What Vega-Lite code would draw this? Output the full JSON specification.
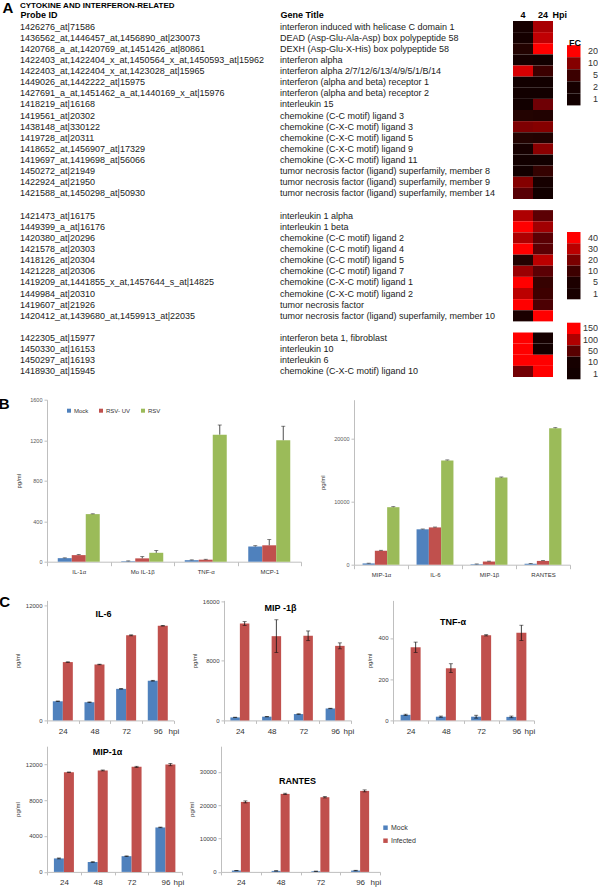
{
"$schema":"https://vega.github.io/schema/vega-lite/v6.json",
"padding":{"left":-2,"top":0,"right":0,"bottom":0},
"background":"white",
"config":{"font":"Liberation Sans","view":{"stroke":null},"axis":{"grid":false,"domainColor":"#bfbfbf","tickColor":"#bfbfbf","labelColor":"#404040","titleFontWeight":"normal","titleColor":"#333","labelOverlap":false},"axisY":{"labelOverlap":false},"axisQuantitative":{"labelOverlap":false}},
"datasets":{
"genes":[
{"slot":1,"grp":"g1","probe":"1426276_at|71586","title":"interferon induced with helicase C domain 1","4":2,"24":13},
{"slot":2,"grp":"g1","probe":"1436562_at,1446457_at,1456890_at|230073","title":"DEAD (Asp-Glu-Ala-Asp) box polypeptide 58","4":1.8,"24":15},
{"slot":3,"grp":"g1","probe":"1420768_a_at,1420769_at,1451426_at|80861","title":"DEXH (Asp-Glu-X-His) box polypeptide 58","4":3,"24":20},
{"slot":4,"grp":"g1","probe":"1422403_at,1422404_x_at,1450564_x_at,1450593_at|15962","title":"interferon alpha","4":2,"24":1},
{"slot":5,"grp":"g1","probe":"1422403_at,1422404_x_at,1423028_at|15965","title":"interferon alpha 2/7/12/6/13/4/9/5/1/B/14","4":17,"24":5},
{"slot":6,"grp":"g1","probe":"1449026_at,1442222_at|15975","title":"interferon (alpha and beta) receptor 1","4":1,"24":1},
{"slot":7,"grp":"g1","probe":"1427691_a_at,1451462_a_at,1440169_x_at|15976","title":"interferon (alpha and beta) receptor 2","4":1,"24":1},
{"slot":8,"grp":"g1","probe":"1418219_at|16168","title":"interleukin 15","4":1,"24":8.5},
{"slot":9,"grp":"g1","probe":"1419561_at|20302","title":"chemokine (C-C motif) ligand 3","4":3,"24":2.8},
{"slot":10,"grp":"g1","probe":"1438148_at|330122","title":"chemokine (C-X-C motif) ligand 3","4":9.5,"24":10},
{"slot":11,"grp":"g1","probe":"1419728_at|20311","title":"chemokine (C-X-C motif) ligand 5","4":3,"24":2.8},
{"slot":12,"grp":"g1","probe":"1418652_at,1456907_at|17329","title":"chemokine (C-X-C motif) ligand 9","4":2,"24":10.5},
{"slot":13,"grp":"g1","probe":"1419697_at,1419698_at|56066","title":"chemokine (C-X-C motif) ligand 11","4":1,"24":1},
{"slot":14,"grp":"g1","probe":"1450272_at|21949","title":"tumor necrosis factor (ligand) superfamily, member 8","4":1,"24":4.5},
{"slot":15,"grp":"g1","probe":"1422924_at|21950","title":"tumor necrosis factor (ligand) superfamily, member 9","4":10,"24":2},
{"slot":16,"grp":"g1","probe":"1421588_at,1450298_at|50930","title":"tumor necrosis factor (ligand) superfamily, member 14","4":7,"24":1},
{"slot":18,"grp":"g2","probe":"1421473_at|16175","title":"interleukin 1 alpha","4":28,"24":15},
{"slot":19,"grp":"g2","probe":"1449399_a_at|16176","title":"interleukin 1 beta","4":40,"24":26},
{"slot":20,"grp":"g2","probe":"1420380_at|20296","title":"chemokine (C-C motif) ligand 2","4":28,"24":15},
{"slot":21,"grp":"g2","probe":"1421578_at|20303","title":"chemokine (C-C motif) ligand 4","4":40,"24":15},
{"slot":22,"grp":"g2","probe":"1418126_at|20304","title":"chemokine (C-C motif) ligand 5","4":6,"24":30},
{"slot":23,"grp":"g2","probe":"1421228_at|20306","title":"chemokine (C-C motif) ligand 7","4":25,"24":15},
{"slot":24,"grp":"g2","probe":"1419209_at,1441855_x_at,1457644_s_at|14825","title":"chemokine (C-X-C motif) ligand 1","4":40,"24":9},
{"slot":25,"grp":"g2","probe":"1449984_at|20310","title":"chemokine (C-X-C motif) ligand 2","4":30,"24":10},
{"slot":26,"grp":"g2","probe":"1419607_at|21926","title":"tumor necrosis factor","4":40,"24":12.5},
{"slot":27,"grp":"g2","probe":"1420412_at,1439680_at,1459913_at|22035","title":"tumor necrosis factor (ligand) superfamily, member 10","4":3,"24":40},
{"slot":29,"grp":"g3","probe":"1422305_at|15977","title":"interferon beta 1, fibroblast","4":150,"24":9},
{"slot":30,"grp":"g3","probe":"1450330_at|16153","title":"interleukin 10","4":150,"24":3},
{"slot":31,"grp":"g3","probe":"1450297_at|16193","title":"interleukin 6","4":150,"24":150},
{"slot":32,"grp":"g3","probe":"1418930_at|15945","title":"chemokine (C-X-C motif) ligand 10","4":65,"24":150}
],
"bl":[
{"c":"IL-1α","g":"Mock","v":35,"hi":38},{"c":"IL-1α","g":"RSV- UV","v":65,"hi":70},{"c":"IL-1α","g":"RSV","v":470,"hi":473},
{"c":"Mo IL-1β","g":"Mock","v":5,"hi":8},{"c":"Mo IL-1β","g":"RSV- UV","v":33,"hi":50},{"c":"Mo IL-1β","g":"RSV","v":88,"hi":110},
{"c":"TNF-α","g":"Mock","v":15,"hi":18},{"c":"TNF-α","g":"RSV- UV","v":20,"hi":24},{"c":"TNF-α","g":"RSV","v":1255,"hi":1350},
{"c":"MCP-1","g":"Mock","v":150,"hi":158},{"c":"MCP-1","g":"RSV- UV","v":162,"hi":218},{"c":"MCP-1","g":"RSV","v":1200,"hi":1338}
],
"br":[
{"c":"MIP-1α","g":"Mock","v":200,"hi":240},{"c":"MIP-1α","g":"RSV- UV","v":2200,"hi":2280},{"c":"MIP-1α","g":"RSV","v":9100,"hi":9180},
{"c":"IL-6","g":"Mock","v":5600,"hi":5650},{"c":"IL-6","g":"RSV- UV","v":5900,"hi":5960},{"c":"IL-6","g":"RSV","v":16500,"hi":16580},
{"c":"MIP-1β","g":"Mock","v":80,"hi":120},{"c":"MIP-1β","g":"RSV- UV","v":500,"hi":560},{"c":"MIP-1β","g":"RSV","v":13800,"hi":13880},
{"c":"RANTES","g":"Mock","v":150,"hi":200},{"c":"RANTES","g":"RSV- UV","v":600,"hi":660},{"c":"RANTES","g":"RSV","v":21600,"hi":21680}
],
"il6":[
{"h":"24","g":"Mock","v":2000,"lo":1970,"hi":2030},{"h":"48","g":"Mock","v":1900,"lo":1870,"hi":1930},{"h":"72","g":"Mock","v":3300,"lo":3270,"hi":3330},{"h":"96","g":"Mock","v":4150,"lo":4110,"hi":4190},
{"h":"24","g":"Infected","v":6100,"lo":6070,"hi":6130},{"h":"48","g":"Infected","v":5850,"lo":5820,"hi":5880},{"h":"72","g":"Infected","v":8900,"lo":8850,"hi":8950},{"h":"96","g":"Infected","v":9900,"lo":9870,"hi":9930}
],
"mip1b":[
{"h":"24","g":"Mock","v":400,"lo":370,"hi":430},{"h":"48","g":"Mock","v":500,"lo":470,"hi":530},{"h":"72","g":"Mock","v":850,"lo":820,"hi":880},{"h":"96","g":"Mock","v":1600,"lo":1570,"hi":1630},
{"h":"24","g":"Infected","v":13000,"lo":12750,"hi":13250},{"h":"48","g":"Infected","v":11300,"lo":9100,"hi":13500},{"h":"72","g":"Infected","v":11350,"lo":10700,"hi":12000},{"h":"96","g":"Infected","v":10000,"lo":9600,"hi":10400}
],
"tnf":[
{"h":"24","g":"Mock","v":27,"lo":24,"hi":30},{"h":"48","g":"Mock","v":18,"lo":15,"hi":21},{"h":"72","g":"Mock","v":18,"lo":11,"hi":25},{"h":"96","g":"Mock","v":17,"lo":13,"hi":21},
{"h":"24","g":"Infected","v":355,"lo":330,"hi":380},{"h":"48","g":"Infected","v":253,"lo":232,"hi":275},{"h":"72","g":"Infected","v":413,"lo":410,"hi":416},{"h":"96","g":"Infected","v":425,"lo":388,"hi":462}
],
"mip1a":[
{"h":"24","g":"Mock","v":1500,"lo":1450,"hi":1550},{"h":"48","g":"Mock","v":1100,"lo":1070,"hi":1130},{"h":"72","g":"Mock","v":1750,"lo":1720,"hi":1780},{"h":"96","g":"Mock","v":4950,"lo":4920,"hi":4990},
{"h":"24","g":"Infected","v":11100,"lo":11070,"hi":11130},{"h":"48","g":"Infected","v":11300,"lo":11250,"hi":11350},{"h":"72","g":"Infected","v":11700,"lo":11640,"hi":11760},{"h":"96","g":"Infected","v":11950,"lo":11820,"hi":12080}
],
"rantes":[
{"h":"24","g":"Mock","v":400,"lo":350,"hi":450},{"h":"48","g":"Mock","v":300,"lo":250,"hi":350},{"h":"72","g":"Mock","v":200,"lo":150,"hi":250},{"h":"96","g":"Mock","v":400,"lo":320,"hi":480},
{"h":"24","g":"Infected","v":21000,"lo":20700,"hi":21300},{"h":"48","g":"Infected","v":23400,"lo":23200,"hi":23600},{"h":"72","g":"Infected","v":22400,"lo":22200,"hi":22600},{"h":"96","g":"Infected","v":24300,"lo":24000,"hi":24600}
]
},
"vconcat":[
{
"spacing":0,
"resolve":{"scale":{"color":"independent"},"legend":{"color":"independent"}},
"hconcat":[
{"width":233,"height":356,"data":{"name":"genes"},
"title":{"text":"CYTOKINE AND INTERFERON-RELATED","anchor":"start","frame":"group","fontSize":8,"fontWeight":"bold","offset":3,"dx":-27,"dy":13,"color":"#000"},
"mark":{"type":"text","align":"left","fontSize":9,"color":"#1a1a1a","dx":-27},
"encoding":{
"y":{"field":"slot","type":"ordinal","scale":{"domain":[1,2,3,4,5,6,7,8,9,10,11,12,13,14,15,16,17,18,19,20,21,22,23,24,25,26,27,28,29,30,31,32],"paddingInner":0,"paddingOuter":0},"axis":{"title":"A","titleAngle":0,"titleX":-45,"titleY":-21,"titleAlign":"left","titleBaseline":"top","titleFontSize":15,"titleFontWeight":"bold","titleColor":"#000","labels":false,"ticks":false,"domain":false}},
"x":{"datum":"Probe ID","type":"nominal","scale":{"type":"point","padding":0,"align":0},"axis":{"orient":"top","title":null,"domain":false,"ticks":false,"labelAngle":0,"labelFontWeight":"bold","labelFontSize":9,"labelAlign":"left","labelBaseline":"bottom","labelPadding":2,"labelOffset":-27,"labelColor":"#000"}},
"text":{"field":"probe"}}},
{"width":232.7,"height":356,"data":{"name":"genes"},
"mark":{"type":"text","align":"left","fontSize":9,"color":"#1a1a1a"},
"encoding":{
"y":{"field":"slot","type":"ordinal","scale":{"domain":[1,2,3,4,5,6,7,8,9,10,11,12,13,14,15,16,17,18,19,20,21,22,23,24,25,26,27,28,29,30,31,32],"paddingInner":0,"paddingOuter":0},"axis":null},
"x":{"datum":"Gene Title","type":"nominal","scale":{"type":"point","padding":0,"align":0},"axis":{"orient":"top","title":null,"domain":false,"ticks":false,"labelAngle":0,"labelFontWeight":"bold","labelFontSize":9,"labelAlign":"left","labelBaseline":"bottom","labelPadding":2,"labelColor":"#000"}},
"text":{"field":"title"}}},
{"width":40,"height":356,"data":{"name":"genes"},
"transform":[{"fold":["4","24"],"as":["hpi","fc"]}],
"encoding":{
"x":{"field":"hpi","type":"nominal","sort":["4","24"],"scale":{"paddingInner":0,"paddingOuter":0},"axis":{"orient":"top","title":"Hpi","titleAngle":0,"titleX":39,"titleY":-2,"titleAlign":"left","titleBaseline":"bottom","titleFontSize":9,"titleFontWeight":"bold","titleColor":"#000","domain":false,"ticks":false,"labelFontWeight":"bold","labelFontSize":9,"labelPadding":2,"labelAngle":0,"labelColor":"#000"}},
"y":{"field":"slot","type":"ordinal","scale":{"domain":[1,2,3,4,5,6,7,8,9,10,11,12,13,14,15,16,17,18,19,20,21,22,23,24,25,26,27,28,29,30,31,32],"paddingInner":0,"paddingOuter":0},"axis":null}},
"resolve":{"scale":{"color":"independent"},"legend":{"color":"independent"}},
"layer":[
{"transform":[{"filter":"datum.grp==='g1'"}],"mark":"rect","encoding":{"color":{"field":"fc","type":"quantitative","scale":{"domain":[1,2,5,10,20],"range":["#000000","#160000","#3b0000","#850000","#ff0000"],"clamp":true},"legend":null}}},
{"transform":[{"filter":"datum.grp==='g2'"}],"mark":"rect","encoding":{"color":{"field":"fc","type":"quantitative","scale":{"domain":[1,5,10,20,30,40],"range":["#000000","#1c0000","#3d0000","#7a0000","#bb0000","#ff0000"],"clamp":true},"legend":null}}},
{"transform":[{"filter":"datum.grp==='g3'"}],"mark":"rect","encoding":{"color":{"field":"fc","type":"quantitative","scale":{"domain":[1,10,50,100,150],"range":["#000000","#160000","#580000","#b00000","#ff0000"],"clamp":true},"legend":null}}}
]},
{"spacing":126,"resolve":{"scale":{"color":"independent"},"legend":{"color":"independent"}},
"vconcat":[
{"width":13.5,"height":84.4,"data":{"values":[{"lv":20},{"lv":10},{"lv":5},{"lv":2},{"lv":1}]},
"mark":"rect",
"encoding":{"y":{"field":"lv","type":"ordinal","sort":"descending","scale":{"paddingInner":0,"paddingOuter":1.22,"align":1},"axis":{"orient":"right","title":"FC","titleAngle":0,"titleX":0,"titleY":24.5,"titleAlign":"right","titleBaseline":"alphabetic","titleFontSize":9,"titleFontWeight":"bold","titleColor":"#000","domain":false,"ticks":false,"labelFontSize":9,"labelColor":"#333","labelAlign":"right","labelPadding":17}},
"color":{"field":"lv","type":"quantitative","scale":{"domain":[1,2,5,10,20],"range":["#000000","#160000","#3b0000","#850000","#ff0000"]},"legend":null}}},
{"spacing":22.7,"resolve":{"scale":{"color":"independent"},"legend":{"color":"independent"}},
"vconcat":[
{"width":13.5,"height":67.3,"data":{"values":[{"lv":40},{"lv":30},{"lv":20},{"lv":10},{"lv":5},{"lv":1}]},
"mark":"rect",
"encoding":{"y":{"field":"lv","type":"ordinal","sort":"descending","scale":{"paddingInner":0,"paddingOuter":0},"axis":{"orient":"right","title":null,"domain":false,"ticks":false,"labelFontSize":9,"labelColor":"#333","labelAlign":"right","labelPadding":17}},
"color":{"field":"lv","type":"quantitative","scale":{"domain":[1,5,10,20,30,40],"range":["#000000","#1c0000","#3d0000","#7a0000","#bb0000","#ff0000"]},"legend":null}}},
{"width":13.5,"height":56.6,"data":{"values":[{"lv":150},{"lv":100},{"lv":50},{"lv":10},{"lv":1}]},
"mark":"rect",
"encoding":{"y":{"field":"lv","type":"ordinal","sort":"descending","scale":{"paddingInner":0,"paddingOuter":0},"axis":{"orient":"right","title":null,"domain":false,"ticks":false,"labelFontSize":9,"labelColor":"#333","labelAlign":"right","labelPadding":17}},
"color":{"field":"lv","type":"quantitative","scale":{"domain":[1,10,50,100,150],"range":["#000000","#160000","#580000","#b00000","#ff0000"]},"legend":null}}}
]}
]}
]},
{
"title":{"text":"B","anchor":"start","frame":"bounds","dx":-17,"dy":14.5,"fontSize":15,"fontWeight":"bold","baseline":"top","offset":0,"color":"#000"},
"spacing":17,
"resolve":{"scale":{"color":"independent"},"legend":{"color":"independent"}},
"hconcat":[
{"width":254,"height":162,"data":{"name":"bl"},
"encoding":{
"x":{"field":"c","type":"nominal","sort":["IL-1α","Mo IL-1β","TNF-α","MCP-1"],"scale":{"paddingInner":0,"paddingOuter":0},"axis":{"title":null,"labelAngle":0,"labelFontSize":6,"labelColor":"#333","tickBand":"extent","tickSize":4,"labelPadding":3}}},
"layer":[
{"transform":[{"filter":"datum.g==='Mock'"}],"mark":{"type":"bar","width":14,"xOffset":-14},"encoding":{"y":{"field":"v","type":"quantitative","scale":{"domain":[0,1600],"nice":false},"axis":{"title":"pg/ml","titleFontSize":6,"titlePadding":8,"labelFontSize":5.5,"labelColor":"#595959","tickSize":3,"labelPadding":2,"labelOverlap":false,"labelBound":false,"labelFlush":false,"format":"d","values":[0,200,400,600,800,1000,1200,1400,1600]}},
"color":{"field":"g","type":"nominal","scale":{"domain":["Mock","RSV- UV","RSV"],"range":["#4f81bd","#c0504d","#9bbb59"]},"legend":{"orient":"none","legendX":19,"legendY":8,"direction":"horizontal","title":null,"symbolType":"square","symbolSize":16,"labelFontSize":6,"labelColor":"#333","columnPadding":9,"labelOffset":2}}}},
{"transform":[{"filter":"datum.g==='RSV- UV'"}],"mark":{"type":"bar","width":14,"xOffset":0},"encoding":{"y":{"field":"v","type":"quantitative","axis":{"labelOverlap":false}},"color":{"field":"g","type":"nominal","scale":{"domain":["Mock","RSV- UV","RSV"],"range":["#4f81bd","#c0504d","#9bbb59"]},"legend":{"orient":"none","legendX":19,"legendY":8,"direction":"horizontal","title":null,"symbolType":"square","symbolSize":16,"labelFontSize":6,"labelColor":"#333","columnPadding":9,"labelOffset":2}}}},
{"transform":[{"filter":"datum.g==='RSV'"}],"mark":{"type":"bar","width":14,"xOffset":14},"encoding":{"y":{"field":"v","type":"quantitative","axis":{"labelOverlap":false}},"color":{"field":"g","type":"nominal","scale":{"domain":["Mock","RSV- UV","RSV"],"range":["#4f81bd","#c0504d","#9bbb59"]},"legend":{"orient":"none","legendX":19,"legendY":8,"direction":"horizontal","title":null,"symbolType":"square","symbolSize":16,"labelFontSize":6,"labelColor":"#333","columnPadding":9,"labelOffset":2}}}},
{"transform":[{"filter":"datum.g==='Mock'"}],"mark":{"type":"rule","color":"#222","strokeWidth":0.8,"xOffset":-14},"encoding":{"y":{"field":"v","type":"quantitative","axis":{"labelOverlap":false}},"y2":{"field":"hi"}}},
{"transform":[{"filter":"datum.g==='RSV- UV'"}],"mark":{"type":"rule","color":"#222","strokeWidth":0.8,"xOffset":0},"encoding":{"y":{"field":"v","type":"quantitative","axis":{"labelOverlap":false}},"y2":{"field":"hi"}}},
{"transform":[{"filter":"datum.g==='RSV'"}],"mark":{"type":"rule","color":"#222","strokeWidth":0.8,"xOffset":14},"encoding":{"y":{"field":"v","type":"quantitative","axis":{"labelOverlap":false}},"y2":{"field":"hi"}}},
{"transform":[{"filter":"datum.g==='Mock'"}],"mark":{"type":"tick","color":"#222","thickness":0.8,"size":4,"xOffset":-14},"encoding":{"y":{"field":"hi","type":"quantitative","axis":{"labelOverlap":false}}}},
{"transform":[{"filter":"datum.g==='RSV- UV'"}],"mark":{"type":"tick","color":"#222","thickness":0.8,"size":4,"xOffset":0},"encoding":{"y":{"field":"hi","type":"quantitative","axis":{"labelOverlap":false}}}},
{"transform":[{"filter":"datum.g==='RSV'"}],"mark":{"type":"tick","color":"#222","thickness":0.8,"size":4,"xOffset":14},"encoding":{"y":{"field":"hi","type":"quantitative","axis":{"labelOverlap":false}}}}
]},
{"width":216,"height":165,"data":{"name":"br"},
"encoding":{
"x":{"field":"c","type":"nominal","sort":["MIP-1α","IL-6","MIP-1β","RANTES"],"scale":{"paddingInner":0,"paddingOuter":0},"axis":{"title":null,"labelAngle":0,"labelFontSize":6,"labelColor":"#333","tickBand":"extent","tickSize":4,"labelPadding":3}}},
"layer":[
{"transform":[{"filter":"datum.g==='Mock'"}],"mark":{"type":"bar","width":12.3,"xOffset":-12.3},"encoding":{"y":{"field":"v","type":"quantitative","scale":{"domain":[0,26108],"nice":false},"axis":{"title":"pg/ml","titleFontSize":6,"titlePadding":8,"labelFontSize":5.5,"labelColor":"#595959","tickSize":3,"labelPadding":2,"labelOverlap":false,"labelBound":false,"labelFlush":false,"format":"d","values":[0,5000,10000,15000,20000,25000]}},
"color":{"field":"g","type":"nominal","scale":{"domain":["Mock","RSV- UV","RSV"],"range":["#4f81bd","#c0504d","#9bbb59"]},"legend":null}}},
{"transform":[{"filter":"datum.g==='RSV- UV'"}],"mark":{"type":"bar","width":12.3,"xOffset":0},"encoding":{"y":{"field":"v","type":"quantitative","axis":{"labelOverlap":false}},"color":{"field":"g","type":"nominal","scale":{"domain":["Mock","RSV- UV","RSV"],"range":["#4f81bd","#c0504d","#9bbb59"]},"legend":null}}},
{"transform":[{"filter":"datum.g==='RSV'"}],"mark":{"type":"bar","width":12.3,"xOffset":12.3},"encoding":{"y":{"field":"v","type":"quantitative","axis":{"labelOverlap":false}},"color":{"field":"g","type":"nominal","scale":{"domain":["Mock","RSV- UV","RSV"],"range":["#4f81bd","#c0504d","#9bbb59"]},"legend":null}}},
{"transform":[{"filter":"datum.g==='Mock'"}],"mark":{"type":"rule","color":"#222","strokeWidth":0.8,"xOffset":-12.3},"encoding":{"y":{"field":"v","type":"quantitative","axis":{"labelOverlap":false}},"y2":{"field":"hi"}}},
{"transform":[{"filter":"datum.g==='RSV- UV'"}],"mark":{"type":"rule","color":"#222","strokeWidth":0.8,"xOffset":0},"encoding":{"y":{"field":"v","type":"quantitative","axis":{"labelOverlap":false}},"y2":{"field":"hi"}}},
{"transform":[{"filter":"datum.g==='RSV'"}],"mark":{"type":"rule","color":"#222","strokeWidth":0.8,"xOffset":12.3},"encoding":{"y":{"field":"v","type":"quantitative","axis":{"labelOverlap":false}},"y2":{"field":"hi"}}},
{"transform":[{"filter":"datum.g==='Mock'"}],"mark":{"type":"tick","color":"#222","thickness":0.8,"size":4,"xOffset":-12.3},"encoding":{"y":{"field":"hi","type":"quantitative","axis":{"labelOverlap":false}}}},
{"transform":[{"filter":"datum.g==='RSV- UV'"}],"mark":{"type":"tick","color":"#222","thickness":0.8,"size":4,"xOffset":0},"encoding":{"y":{"field":"hi","type":"quantitative","axis":{"labelOverlap":false}}}},
{"transform":[{"filter":"datum.g==='RSV'"}],"mark":{"type":"tick","color":"#222","thickness":0.8,"size":4,"xOffset":12.3},"encoding":{"y":{"field":"hi","type":"quantitative","axis":{"labelOverlap":false}}}}
]}
]},
{
"title":{"text":"C","anchor":"start","frame":"bounds","dx":-15,"dy":12,"fontSize":15,"fontWeight":"bold","baseline":"top","offset":0,"color":"#000"},
"spacing":10.8,
"resolve":{"scale":{"color":"independent"},"legend":{"color":"independent"}},
"vconcat":[
{"spacing":12,"resolve":{"scale":{"color":"independent"},"legend":{"color":"independent"}},
"hconcat":[
{"width":126.6,"height":120,"data":{"name":"il6"},
"resolve":{"axis":{"x":"independent"}},
"layer":[
{"transform":[{"filter":"datum.g==='Mock'"}],"mark":{"type":"bar","width":10,"xOffset":-5},"encoding":{
"x":{"field":"h","type":"ordinal","sort":["24","48","72","96"],"scale":{"paddingInner":0,"paddingOuter":0},"axis":{"title":"hpi","titleAngle":0,"titleX":121,"titleY":7,"titleAlign":"left","titleBaseline":"top","titleFontSize":8,"labelAngle":0,"labelFontSize":8,"labelColor":"#333","labelPadding":4,"tickBand":"extent","tickSize":3}},
"y":{"field":"v","type":"quantitative","scale":{"domain":[0,12554],"nice":false},"axis":{"title":"pg/ml","titleFontSize":6,"titlePadding":5,"labelFontSize":6,"labelPadding":2,"tickSize":3,"labelOverlap":false,"labelBound":false,"labelFlush":false,"format":"d","values":[0,2000,4000,6000,8000,10000,12000]}},"color":{"field":"g","type":"nominal","scale":{"domain":["Mock","Infected"],"range":["#4f81bd","#c0504d"]},"legend":null}}},
{"transform":[{"filter":"datum.g==='Infected'"}],"mark":{"type":"bar","width":10,"xOffset":5},"encoding":{
"x":{"field":"h","type":"ordinal","sort":["24","48","72","96"],"axis":{"orient":"top","title":"IL-6","labels":false,"ticks":false,"domain":false,"titleX":56,"titleY":15.8,"titleAngle":0,"titleAlign":"center","titleBaseline":"alphabetic","titleFontSize":9,"titleFontWeight":"bold","titleColor":"#000"}},
"y":{"field":"v","type":"quantitative","axis":{"labelOverlap":false}},"color":{"field":"g","type":"nominal","scale":{"domain":["Mock","Infected"],"range":["#4f81bd","#c0504d"]},"legend":null}}},
{"transform":[{"filter":"datum.g==='Mock'"}],"mark":{"type":"rule","color":"#111","strokeWidth":0.8,"xOffset":-5},"encoding":{"x":{"field":"h","type":"ordinal","sort":["24","48","72","96"],"axis":null},"y":{"field":"lo","type":"quantitative","axis":{"labelOverlap":false}},"y2":{"field":"hi"}}},
{"transform":[{"filter":"datum.g==='Infected'"}],"mark":{"type":"rule","color":"#111","strokeWidth":0.8,"xOffset":5},"encoding":{"x":{"field":"h","type":"ordinal","sort":["24","48","72","96"],"axis":null},"y":{"field":"lo","type":"quantitative","axis":{"labelOverlap":false}},"y2":{"field":"hi"}}},
{"transform":[{"filter":"datum.g==='Mock'"},{"fold":["lo","hi"],"as":["k","e"]}],"mark":{"type":"tick","color":"#111","thickness":0.8,"size":4,"xOffset":-5},"encoding":{"x":{"field":"h","type":"ordinal","sort":["24","48","72","96"],"axis":null},"y":{"field":"e","type":"quantitative","axis":{"labelOverlap":false}}}},
{"transform":[{"filter":"datum.g==='Infected'"},{"fold":["lo","hi"],"as":["k","e"]}],"mark":{"type":"tick","color":"#111","thickness":0.8,"size":4,"xOffset":5},"encoding":{"x":{"field":"h","type":"ordinal","sort":["24","48","72","96"],"axis":null},"y":{"field":"e","type":"quantitative","axis":{"labelOverlap":false}}}}
]},
{"width":127,"height":120,"data":{"name":"mip1b"},
"resolve":{"axis":{"x":"independent"}},
"layer":[
{"transform":[{"filter":"datum.g==='Mock'"}],"mark":{"type":"bar","width":9.5,"xOffset":-4.75},"encoding":{
"x":{"field":"h","type":"ordinal","sort":["24","48","72","96"],"scale":{"paddingInner":0,"paddingOuter":0},"axis":{"title":"hpi","titleAngle":0,"titleX":119,"titleY":7,"titleAlign":"left","titleBaseline":"top","titleFontSize":8,"labelAngle":0,"labelFontSize":8,"labelColor":"#333","labelPadding":4,"tickBand":"extent","tickSize":3}},
"y":{"field":"v","type":"quantitative","scale":{"domain":[0,16100],"nice":false},"axis":{"title":"pg/ml","titleFontSize":6,"titlePadding":5,"labelFontSize":6,"labelPadding":2,"tickSize":3,"labelOverlap":false,"labelBound":false,"labelFlush":false,"format":"d","values":[0,2000,4000,6000,8000,10000,12000,14000,16000]}},"color":{"field":"g","type":"nominal","scale":{"domain":["Mock","Infected"],"range":["#4f81bd","#c0504d"]},"legend":null}}},
{"transform":[{"filter":"datum.g==='Infected'"}],"mark":{"type":"bar","width":9.5,"xOffset":4.75},"encoding":{
"x":{"field":"h","type":"ordinal","sort":["24","48","72","96"],"axis":{"orient":"top","title":"MIP -1β","labels":false,"ticks":false,"domain":false,"titleX":56,"titleY":10.5,"titleAngle":0,"titleAlign":"center","titleBaseline":"alphabetic","titleFontSize":9,"titleFontWeight":"bold","titleColor":"#000"}},
"y":{"field":"v","type":"quantitative","axis":{"labelOverlap":false}},"color":{"field":"g","type":"nominal","scale":{"domain":["Mock","Infected"],"range":["#4f81bd","#c0504d"]},"legend":null}}},
{"transform":[{"filter":"datum.g==='Mock'"}],"mark":{"type":"rule","color":"#111","strokeWidth":0.8,"xOffset":-4.75},"encoding":{"x":{"field":"h","type":"ordinal","sort":["24","48","72","96"],"axis":null},"y":{"field":"lo","type":"quantitative","axis":{"labelOverlap":false}},"y2":{"field":"hi"}}},
{"transform":[{"filter":"datum.g==='Infected'"}],"mark":{"type":"rule","color":"#111","strokeWidth":0.8,"xOffset":4.75},"encoding":{"x":{"field":"h","type":"ordinal","sort":["24","48","72","96"],"axis":null},"y":{"field":"lo","type":"quantitative","axis":{"labelOverlap":false}},"y2":{"field":"hi"}}},
{"transform":[{"filter":"datum.g==='Mock'"},{"fold":["lo","hi"],"as":["k","e"]}],"mark":{"type":"tick","color":"#111","thickness":0.8,"size":4,"xOffset":-4.75},"encoding":{"x":{"field":"h","type":"ordinal","sort":["24","48","72","96"],"axis":null},"y":{"field":"e","type":"quantitative","axis":{"labelOverlap":false}}}},
{"transform":[{"filter":"datum.g==='Infected'"},{"fold":["lo","hi"],"as":["k","e"]}],"mark":{"type":"tick","color":"#111","thickness":0.8,"size":4,"xOffset":4.75},"encoding":{"x":{"field":"h","type":"ordinal","sort":["24","48","72","96"],"axis":null},"y":{"field":"e","type":"quantitative","axis":{"labelOverlap":false}}}}
]},
{"width":141,"height":120,"data":{"name":"tnf"},
"resolve":{"axis":{"x":"independent"}},
"layer":[
{"transform":[{"filter":"datum.g==='Mock'"}],"mark":{"type":"bar","width":10,"xOffset":-5},"encoding":{
"x":{"field":"h","type":"ordinal","sort":["24","48","72","96"],"scale":{"paddingInner":0,"paddingOuter":0},"axis":{"title":"hpi","titleAngle":0,"titleX":131,"titleY":7,"titleAlign":"left","titleBaseline":"top","titleFontSize":8,"labelAngle":0,"labelFontSize":8,"labelColor":"#333","labelPadding":4,"tickBand":"extent","tickSize":3}},
"y":{"field":"v","type":"quantitative","scale":{"domain":[0,582.5],"nice":false},"axis":{"title":"pg/ml","titleFontSize":6,"titlePadding":5,"labelFontSize":6,"labelPadding":2,"tickSize":3,"labelOverlap":false,"labelBound":false,"labelFlush":false,"format":"d","values":[0,50,100,150,200,250,300,350,400,450,500]}},"color":{"field":"g","type":"nominal","scale":{"domain":["Mock","Infected"],"range":["#4f81bd","#c0504d"]},"legend":null}}},
{"transform":[{"filter":"datum.g==='Infected'"}],"mark":{"type":"bar","width":10,"xOffset":5},"encoding":{
"x":{"field":"h","type":"ordinal","sort":["24","48","72","96"],"axis":{"orient":"top","title":"TNF-α","labels":false,"ticks":false,"domain":false,"titleX":59.4,"titleY":23.8,"titleAngle":0,"titleAlign":"center","titleBaseline":"alphabetic","titleFontSize":9,"titleFontWeight":"bold","titleColor":"#000"}},
"y":{"field":"v","type":"quantitative","axis":{"labelOverlap":false}},"color":{"field":"g","type":"nominal","scale":{"domain":["Mock","Infected"],"range":["#4f81bd","#c0504d"]},"legend":null}}},
{"transform":[{"filter":"datum.g==='Mock'"}],"mark":{"type":"rule","color":"#111","strokeWidth":0.8,"xOffset":-5},"encoding":{"x":{"field":"h","type":"ordinal","sort":["24","48","72","96"],"axis":null},"y":{"field":"lo","type":"quantitative","axis":{"labelOverlap":false}},"y2":{"field":"hi"}}},
{"transform":[{"filter":"datum.g==='Infected'"}],"mark":{"type":"rule","color":"#111","strokeWidth":0.8,"xOffset":5},"encoding":{"x":{"field":"h","type":"ordinal","sort":["24","48","72","96"],"axis":null},"y":{"field":"lo","type":"quantitative","axis":{"labelOverlap":false}},"y2":{"field":"hi"}}},
{"transform":[{"filter":"datum.g==='Mock'"},{"fold":["lo","hi"],"as":["k","e"]}],"mark":{"type":"tick","color":"#111","thickness":0.8,"size":4,"xOffset":-5},"encoding":{"x":{"field":"h","type":"ordinal","sort":["24","48","72","96"],"axis":null},"y":{"field":"e","type":"quantitative","axis":{"labelOverlap":false}}}},
{"transform":[{"filter":"datum.g==='Infected'"},{"fold":["lo","hi"],"as":["k","e"]}],"mark":{"type":"tick","color":"#111","thickness":0.8,"size":4,"xOffset":5},"encoding":{"x":{"field":"h","type":"ordinal","sort":["24","48","72","96"],"axis":null},"y":{"field":"e","type":"quantitative","axis":{"labelOverlap":false}}}}
]}
]},
{"spacing":4,"resolve":{"scale":{"color":"independent"},"legend":{"color":"independent"}},
"hconcat":[
{"width":135.3,"height":125.7,"data":{"name":"mip1a"},
"resolve":{"axis":{"x":"independent"}},
"layer":[
{"transform":[{"filter":"datum.g==='Mock'"}],"mark":{"type":"bar","width":10,"xOffset":-5},"encoding":{
"x":{"field":"h","type":"ordinal","sort":["24","48","72","96"],"scale":{"paddingInner":0,"paddingOuter":0},"axis":{"title":"hpi","titleAngle":0,"titleX":126,"titleY":7,"titleAlign":"left","titleBaseline":"top","titleFontSize":8,"labelAngle":0,"labelFontSize":8,"labelColor":"#333","labelPadding":4,"tickBand":"extent","tickSize":3}},
"y":{"field":"v","type":"quantitative","scale":{"domain":[0,14000],"nice":false},"axis":{"title":"pg/ml","titleFontSize":6,"titlePadding":5,"labelFontSize":6,"labelPadding":2,"tickSize":3,"labelOverlap":false,"labelBound":false,"labelFlush":false,"format":"d","values":[0,2000,4000,6000,8000,10000,12000,14000]}},"color":{"field":"g","type":"nominal","scale":{"domain":["Mock","Infected"],"range":["#4f81bd","#c0504d"]},"legend":null}}},
{"transform":[{"filter":"datum.g==='Infected'"}],"mark":{"type":"bar","width":10,"xOffset":5},"encoding":{
"x":{"field":"h","type":"ordinal","sort":["24","48","72","96"],"axis":{"orient":"top","title":"MIP-1α","labels":false,"ticks":false,"domain":false,"titleX":60,"titleY":8.3,"titleAngle":0,"titleAlign":"center","titleBaseline":"alphabetic","titleFontSize":9,"titleFontWeight":"bold","titleColor":"#000"}},
"y":{"field":"v","type":"quantitative","axis":{"labelOverlap":false}},"color":{"field":"g","type":"nominal","scale":{"domain":["Mock","Infected"],"range":["#4f81bd","#c0504d"]},"legend":null}}},
{"transform":[{"filter":"datum.g==='Mock'"}],"mark":{"type":"rule","color":"#111","strokeWidth":0.8,"xOffset":-5},"encoding":{"x":{"field":"h","type":"ordinal","sort":["24","48","72","96"],"axis":null},"y":{"field":"lo","type":"quantitative","axis":{"labelOverlap":false}},"y2":{"field":"hi"}}},
{"transform":[{"filter":"datum.g==='Infected'"}],"mark":{"type":"rule","color":"#111","strokeWidth":0.8,"xOffset":5},"encoding":{"x":{"field":"h","type":"ordinal","sort":["24","48","72","96"],"axis":null},"y":{"field":"lo","type":"quantitative","axis":{"labelOverlap":false}},"y2":{"field":"hi"}}},
{"transform":[{"filter":"datum.g==='Mock'"},{"fold":["lo","hi"],"as":["k","e"]}],"mark":{"type":"tick","color":"#111","thickness":0.8,"size":4,"xOffset":-5},"encoding":{"x":{"field":"h","type":"ordinal","sort":["24","48","72","96"],"axis":null},"y":{"field":"e","type":"quantitative","axis":{"labelOverlap":false}}}},
{"transform":[{"filter":"datum.g==='Infected'"},{"fold":["lo","hi"],"as":["k","e"]}],"mark":{"type":"tick","color":"#111","thickness":0.8,"size":4,"xOffset":5},"encoding":{"x":{"field":"h","type":"ordinal","sort":["24","48","72","96"],"axis":null},"y":{"field":"e","type":"quantitative","axis":{"labelOverlap":false}}}}
]},
{"width":159,"height":125.7,"data":{"name":"rantes"},
"resolve":{"axis":{"x":"independent"}},
"layer":[
{"transform":[{"filter":"datum.g==='Mock'"}],"mark":{"type":"bar","width":9,"xOffset":-4.5},"encoding":{
"x":{"field":"h","type":"ordinal","sort":["24","48","72","96"],"scale":{"paddingInner":0,"paddingOuter":0},"axis":{"title":"hpi","titleAngle":0,"titleX":149,"titleY":7,"titleAlign":"left","titleBaseline":"top","titleFontSize":8,"labelAngle":0,"labelFontSize":8,"labelColor":"#333","labelPadding":4,"tickBand":"extent","tickSize":3}},
"y":{"field":"v","type":"quantitative","scale":{"domain":[0,37710],"nice":false},"axis":{"title":"pg/ml","titleFontSize":6,"titlePadding":5,"labelFontSize":6,"labelPadding":2,"tickSize":3,"labelOverlap":false,"labelBound":false,"labelFlush":false,"format":"d","values":[0,5000,10000,15000,20000,25000,30000]}},"color":{"field":"g","type":"nominal","scale":{"domain":["Mock","Infected"],"range":["#4f81bd","#c0504d"]},"legend":{"orient":"none","legendX":161,"legendY":78,"direction":"vertical","title":null,"symbolType":"square","symbolSize":20,"labelFontSize":7,"labelColor":"#333","rowPadding":5,"labelOffset":2}}}},
{"transform":[{"filter":"datum.g==='Infected'"}],"mark":{"type":"bar","width":9,"xOffset":4.5},"encoding":{
"x":{"field":"h","type":"ordinal","sort":["24","48","72","96"],"axis":{"orient":"top","title":"RANTES","labels":false,"ticks":false,"domain":false,"titleX":76,"titleY":37,"titleAngle":0,"titleAlign":"center","titleBaseline":"alphabetic","titleFontSize":9,"titleFontWeight":"bold","titleColor":"#000"}},
"y":{"field":"v","type":"quantitative","axis":{"labelOverlap":false}},"color":{"field":"g","type":"nominal","scale":{"domain":["Mock","Infected"],"range":["#4f81bd","#c0504d"]},"legend":{"orient":"none","legendX":161,"legendY":78,"direction":"vertical","title":null,"symbolType":"square","symbolSize":20,"labelFontSize":7,"labelColor":"#333","rowPadding":5,"labelOffset":2}}}},
{"transform":[{"filter":"datum.g==='Mock'"}],"mark":{"type":"rule","color":"#111","strokeWidth":0.8,"xOffset":-4.5},"encoding":{"x":{"field":"h","type":"ordinal","sort":["24","48","72","96"],"axis":null},"y":{"field":"lo","type":"quantitative","axis":{"labelOverlap":false}},"y2":{"field":"hi"}}},
{"transform":[{"filter":"datum.g==='Infected'"}],"mark":{"type":"rule","color":"#111","strokeWidth":0.8,"xOffset":4.5},"encoding":{"x":{"field":"h","type":"ordinal","sort":["24","48","72","96"],"axis":null},"y":{"field":"lo","type":"quantitative","axis":{"labelOverlap":false}},"y2":{"field":"hi"}}},
{"transform":[{"filter":"datum.g==='Mock'"},{"fold":["lo","hi"],"as":["k","e"]}],"mark":{"type":"tick","color":"#111","thickness":0.8,"size":4,"xOffset":-4.5},"encoding":{"x":{"field":"h","type":"ordinal","sort":["24","48","72","96"],"axis":null},"y":{"field":"e","type":"quantitative","axis":{"labelOverlap":false}}}},
{"transform":[{"filter":"datum.g==='Infected'"},{"fold":["lo","hi"],"as":["k","e"]}],"mark":{"type":"tick","color":"#111","thickness":0.8,"size":4,"xOffset":4.5},"encoding":{"x":{"field":"h","type":"ordinal","sort":["24","48","72","96"],"axis":null},"y":{"field":"e","type":"quantitative","axis":{"labelOverlap":false}}}}
]}
]}
]}
],
"spacing":16.7,
"resolve":{"scale":{"color":"independent"},"legend":{"color":"independent"}}
}
